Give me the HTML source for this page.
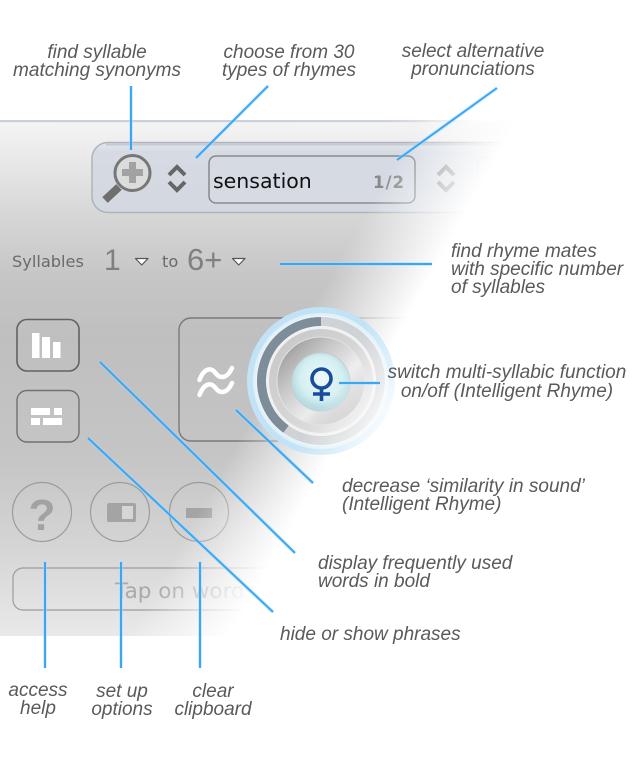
<!DOCTYPE html>
<html>
<head>
<meta charset="utf-8">
<style>
  html, body { margin: 0; padding: 0; background: #ffffff; }
  body { width: 642px; height: 763px; overflow: hidden; }
  svg { display: block; }
  .lbl { font-family: "Liberation Sans", Arial, sans-serif; font-style: italic; font-size: 19px; fill: #5a5a5a; }
</style>
</head>
<body>
<svg width="642" height="763" viewBox="0 0 642 763" xmlns="http://www.w3.org/2000/svg">
  <defs>
    <linearGradient id="pg" x1="0" y1="122" x2="0" y2="636" gradientUnits="userSpaceOnUse">
      <stop offset="0" stop-color="#f4f4f4"/>
      <stop offset="0.06" stop-color="#ebebeb"/>
      <stop offset="0.19" stop-color="#d5d5d5"/>
      <stop offset="0.3" stop-color="#c6c6c6"/>
      <stop offset="0.42" stop-color="#bfbfbf"/>
      <stop offset="0.65" stop-color="#c5c5c5"/>
      <stop offset="0.82" stop-color="#d4d4d4"/>
      <stop offset="1" stop-color="#e9e9e9"/>
    </linearGradient>
    <linearGradient id="ov" x1="365" y1="213" x2="442" y2="256" gradientUnits="userSpaceOnUse">
      <stop offset="0" stop-color="#ffffff" stop-opacity="0"/>
      <stop offset="0.5" stop-color="#ffffff" stop-opacity="0.5"/>
      <stop offset="1" stop-color="#ffffff" stop-opacity="1"/>
    </linearGradient>
    <linearGradient id="kov" x1="340" y1="370" x2="402" y2="405" gradientUnits="userSpaceOnUse">
      <stop offset="0" stop-color="#ffffff" stop-opacity="0"/>
      <stop offset="0.55" stop-color="#ffffff" stop-opacity="0.5"/>
      <stop offset="1" stop-color="#ffffff" stop-opacity="1"/>
    </linearGradient>
    <linearGradient id="topline" x1="0" y1="0" x2="642" y2="0" gradientUnits="userSpaceOnUse">
      <stop offset="0" stop-color="#c8cfd9"/>
      <stop offset="0.6" stop-color="#ccd2db"/>
      <stop offset="0.7" stop-color="#e6e9ee"/>
      <stop offset="0.78" stop-color="#ffffff" stop-opacity="0"/>
    </linearGradient>
    <linearGradient id="bar" x1="0" y1="142" x2="0" y2="213" gradientUnits="userSpaceOnUse">
      <stop offset="0" stop-color="#e3e6ec"/>
      <stop offset="0.15" stop-color="#d6dbe3"/>
      <stop offset="1" stop-color="#d3d8e0"/>
    </linearGradient>
    <linearGradient id="silver" x1="280" y1="340" x2="364" y2="424" gradientUnits="userSpaceOnUse">
      <stop offset="0" stop-color="#8f8f8f"/>
      <stop offset="0.3" stop-color="#c4c4c4"/>
      <stop offset="0.6" stop-color="#ececec"/>
      <stop offset="1" stop-color="#a8a8a8"/>
    </linearGradient>
    <linearGradient id="gring" x1="266" y1="326" x2="376" y2="436" gradientUnits="userSpaceOnUse">
      <stop offset="0" stop-color="#c4c4c4"/>
      <stop offset="1" stop-color="#e6e6e6"/>
    </linearGradient>
    <radialGradient id="cap" cx="321" cy="378" r="30" gradientUnits="userSpaceOnUse">
      <stop offset="0" stop-color="#eefafa"/>
      <stop offset="0.7" stop-color="#d3eff1"/>
      <stop offset="1" stop-color="#b6dbe1"/>
    </radialGradient>
  </defs>

  <!-- Panel -->
  <rect x="0" y="121" width="642" height="515" fill="url(#pg)"/>
  <rect x="0" y="120" width="642" height="2.2" fill="url(#topline)"/>

  <!-- Search bar -->
  <rect x="92" y="142.5" width="560" height="70" rx="16" fill="url(#bar)" stroke="#b0b4ba" stroke-width="1.5"/>
  <line x1="106" y1="144.5" x2="640" y2="144.5" stroke="#c3cad5" stroke-width="2"/>
  <!-- magnifier -->
  <line x1="119" y1="187" x2="105" y2="200" stroke="#6f6f6f" stroke-width="8"/>
  <circle cx="132.5" cy="173" r="17.5" fill="#dcdcdc" stroke="#777777" stroke-width="3"/>
  <rect x="129" y="162" width="7" height="21" fill="#a2a2a2"/>
  <rect x="122" y="169" width="21" height="7" fill="#a2a2a2"/>
  <!-- chevron 1 -->
  <polyline points="169,175 177,167 185,175" fill="none" stroke="#666666" stroke-width="4"/>
  <polyline points="169,182 177,190 185,182" fill="none" stroke="#666666" stroke-width="4"/>
  <!-- text box -->
  <rect x="209" y="156" width="206" height="47" rx="7" fill="#d5dae3" stroke="#7b7b7b" stroke-width="1.3"/>
  <text x="213" y="188" font-family="'DejaVu Sans', Verdana, sans-serif" font-size="20.5" fill="#111111">sensation</text>
  <text x="373" y="188" font-family="'DejaVu Sans', Verdana, sans-serif" font-size="16.5" font-weight="bold" fill="#8a8a8a" letter-spacing="1">1/2</text>
  <!-- chevron 2 -->
  <polyline points="438,175 446,167 454,175" fill="none" stroke="#8a8a8a" stroke-width="4"/>
  <polyline points="438,182 446,190 454,182" fill="none" stroke="#8a8a8a" stroke-width="4"/>
  <rect x="478" y="157" width="120" height="46" rx="7" fill="#d9dde4" stroke="#b5b5b5" stroke-width="1"/>

  <!-- Syllables row -->
  <text x="12" y="267" font-family="'DejaVu Sans', Verdana, sans-serif" font-size="16.2" fill="#6a6a6a">Syllables</text>
  <text x="104" y="270" font-family="'Liberation Sans', Arial, sans-serif" font-size="30" fill="#808080">1</text>
  <polygon points="135.5,258.5 148,258.5 141.75,265" fill="#ffffff" stroke="#555555" stroke-width="1.2" stroke-linejoin="round"/>
  <text x="162" y="267" font-family="'DejaVu Sans', Verdana, sans-serif" font-size="16.2" fill="#6a6a6a">to</text>
  <text x="187" y="270" font-family="'Liberation Sans', Arial, sans-serif" font-size="31" fill="#808080">6+</text>
  <polygon points="232.5,258.5 245,258.5 238.75,265" fill="#ffffff" stroke="#555555" stroke-width="1.2" stroke-linejoin="round"/>

  <!-- Left square buttons -->
  <rect x="17" y="319.5" width="62" height="51.5" rx="10" fill="none" stroke="#626262" stroke-width="1.6"/>
  <rect x="32" y="333" width="7.5" height="25" fill="#ffffff"/>
  <rect x="42" y="337" width="8" height="21" fill="#ffffff"/>
  <rect x="53" y="342" width="7.5" height="16" fill="#ffffff"/>
  <rect x="17" y="390.5" width="62" height="51.5" rx="10" fill="none" stroke="#717171" stroke-width="1.4"/>
  <rect x="31" y="408" width="19" height="7" fill="#ffffff"/>
  <rect x="54" y="408" width="8" height="7" fill="#ffffff"/>
  <rect x="31" y="418" width="9" height="7" fill="#ffffff"/>
  <rect x="43" y="418" width="19" height="7" fill="#ffffff"/>

  <!-- Big square button -->
  <rect x="179" y="318" width="250" height="123" rx="12" fill="none" stroke="#7a7a7a" stroke-width="1.4"/>
  <path d="M199.5,380 C204,368 211,367 215.5,373 C220,379 227,379 232,368" fill="none" stroke="#ffffff" stroke-width="4.5" stroke-linecap="round"/>
  <path d="M199.5,395 C204,383 211,382 215.5,388 C220,394 227,394 232,383" fill="none" stroke="#ffffff" stroke-width="4.5" stroke-linecap="round"/>

  <!-- Bottom round buttons -->
  <circle cx="42" cy="512" r="29.5" fill="none" stroke="#9c9c9c" stroke-width="1.2"/>
  <text x="42" y="530" text-anchor="middle" font-family="'Liberation Sans', Arial, sans-serif" font-size="44" font-weight="bold" fill="#a2a2a2">?</text>
  <circle cx="120" cy="512" r="29.5" fill="none" stroke="#9c9c9c" stroke-width="1.2"/>
  <rect x="107" y="503" width="29" height="19" rx="2" fill="#a4a4a4"/>
  <rect x="122" y="506" width="11" height="13" fill="#d6d6d6"/>
  <circle cx="199" cy="512" r="29.5" fill="none" stroke="#9c9c9c" stroke-width="1.2"/>
  <rect x="186" y="508" width="26" height="10" fill="#a4a4a4"/>

  <!-- Tap box -->
  <rect x="13" y="568" width="420" height="42" rx="10" fill="none" stroke="#9c9c9c" stroke-width="1.2"/>
  <text x="115" y="598" font-family="'DejaVu Sans', Verdana, sans-serif" font-size="21.5" fill="#a9a9a9">Tap on words</text>

  <!-- white fade overlay -->
  <rect x="0" y="118" width="642" height="520" fill="url(#ov)"/>

  <!-- Knob -->
  <circle cx="321" cy="381" r="74" fill="#c2e3f6"/>
  <circle cx="321" cy="381" r="68" fill="#e0f1fa"/>
  <circle cx="321" cy="381" r="65" fill="#f3f5f7"/>
  <circle cx="321" cy="381" r="59.5" fill="none" stroke="#d0d3d6" stroke-width="9"/>
  <path d="M321,321.5 A59.5,59.5 0 0 0 286,429.1" fill="none" stroke="#7d8d99" stroke-width="9"/>
  <circle cx="321" cy="381" r="54" fill="#f0f0f0"/>
  <circle cx="321" cy="381" r="52" fill="url(#gring)"/>
  <circle cx="321" cy="381" r="44" fill="url(#silver)" stroke="#e2e2e2" stroke-width="1"/>
  <circle cx="321" cy="382" r="29" fill="url(#cap)" stroke="#c3cfd2" stroke-width="1"/>
  <circle cx="321" cy="381" r="76" fill="url(#kov)"/>
  <!-- female symbol -->
  <circle cx="321.5" cy="378.5" r="9.5" fill="none" stroke="#1a4c9c" stroke-width="3.6"/>
  <line x1="321.5" y1="388" x2="321.5" y2="401" stroke="#1a4c9c" stroke-width="3.6"/>
  <line x1="313" y1="394" x2="330" y2="394" stroke="#1a4c9c" stroke-width="3.4"/>

  <!-- Connector lines -->
  <g stroke="#a9d9ff" stroke-width="4" stroke-opacity="0.45" fill="none">
    <line x1="131" y1="86" x2="131" y2="150"/>
    <line x1="268" y1="86" x2="196" y2="158"/>
    <line x1="497" y1="88" x2="397" y2="160"/>
    <line x1="280" y1="264" x2="432" y2="264"/>
    <line x1="339" y1="383" x2="380" y2="383"/>
    <line x1="100" y1="362" x2="295" y2="553"/>
    <line x1="88" y1="438" x2="273" y2="612"/>
    <line x1="236" y1="410" x2="313" y2="483"/>
    <line x1="45" y1="562" x2="45" y2="668"/>
    <line x1="121" y1="562" x2="121" y2="668"/>
    <line x1="200" y1="562" x2="200" y2="668"/>
  </g>
  <g stroke="#3aa7f2" stroke-width="2" fill="none">
    <line x1="131" y1="86" x2="131" y2="150"/>
    <line x1="268" y1="86" x2="196" y2="158"/>
    <line x1="497" y1="88" x2="397" y2="160"/>
    <line x1="280" y1="264" x2="432" y2="264"/>
    <line x1="339" y1="383" x2="380" y2="383"/>
    <line x1="100" y1="362" x2="295" y2="553"/>
    <line x1="88" y1="438" x2="273" y2="612"/>
    <line x1="236" y1="410" x2="313" y2="483"/>
    <line x1="45" y1="562" x2="45" y2="668"/>
    <line x1="121" y1="562" x2="121" y2="668"/>
    <line x1="200" y1="562" x2="200" y2="668"/>
  </g>

  <!-- Labels -->
  <text class="lbl" x="97" y="58" text-anchor="middle">find syllable</text>
  <text class="lbl" x="97" y="76" text-anchor="middle">matching synonyms</text>
  <text class="lbl" x="289" y="58" text-anchor="middle">choose from 30</text>
  <text class="lbl" x="289" y="76" text-anchor="middle">types of rhymes</text>
  <text class="lbl" x="473" y="57" text-anchor="middle">select alternative</text>
  <text class="lbl" x="473" y="75" text-anchor="middle">pronunciations</text>

  <text class="lbl" x="451" y="257">find rhyme mates</text>
  <text class="lbl" x="451" y="275">with specific number</text>
  <text class="lbl" x="451" y="293">of syllables</text>

  <text class="lbl" x="507" y="378" text-anchor="middle">switch multi-syllabic function</text>
  <text class="lbl" x="507" y="397" text-anchor="middle">on/off (Intelligent Rhyme)</text>

  <text class="lbl" x="342" y="492">decrease ‘similarity in sound’</text>
  <text class="lbl" x="342" y="510">(Intelligent Rhyme)</text>

  <text class="lbl" x="318" y="569">display frequently used</text>
  <text class="lbl" x="318" y="587">words in bold</text>

  <text class="lbl" x="280" y="640">hide or show phrases</text>

  <text class="lbl" x="38" y="696" text-anchor="middle">access</text>
  <text class="lbl" x="38" y="714" text-anchor="middle">help</text>
  <text class="lbl" x="122" y="697" text-anchor="middle">set up</text>
  <text class="lbl" x="122" y="715" text-anchor="middle">options</text>
  <text class="lbl" x="213" y="697" text-anchor="middle">clear</text>
  <text class="lbl" x="213" y="715" text-anchor="middle">clipboard</text>
</svg>
</body>
</html>
